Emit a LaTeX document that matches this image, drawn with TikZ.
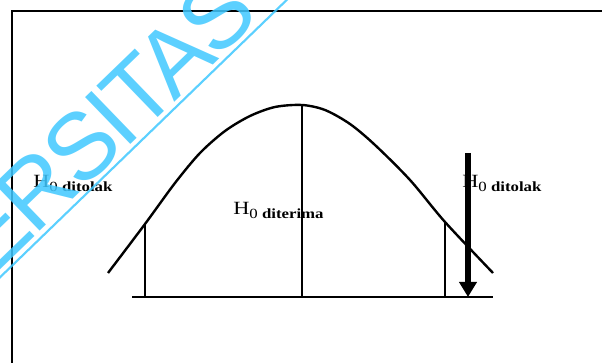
\documentclass[tikz,border=0pt]{standalone}
\usepackage{graphicx}
\usepackage{fontspec}
\setmainfont{Liberation Serif}
\newfontfamily\wmfont[LetterSpace=-4]{Liberation Sans}
\usetikzlibrary{arrows.meta}
\definecolor{wmcyan}{RGB}{64,200,255}
% H_0 with a stretched, lowered subscript
\newcommand{\hnull}[1]{\scalebox{1.2}[1]{H\raisebox{-2.5pt}{\fontsize{10.5}{11}\selectfont 0 \textbf{#1}}}}

\begin{document}
\begin{tikzpicture}[
    x=0.75pt, y=0.75pt,
    hlabel/.style={anchor=base west, inner sep=0pt, font=\fontsize{14}{16}\selectfont},
    curveline/.style={line width=1.8pt},
    cutline/.style={line width=1.6pt},
    wmark/.style={text=wmcyan, font=\wmfont\fontsize{71}{71}\selectfont, inner sep=0pt, text opacity=0.85},
    >={Triangle[width=12.75pt, length=11.25pt]}
]
    \clip (0,0) rectangle (602,363);

    % --- frame ---
    \draw[line width=1.6pt] (12,-5) -- (12,352) -- (610,352);

    % --- labels ---
    \node[hlabel] (rejl) at (33,175) {\hnull{ditolak}};
    \node[hlabel] (acc) at (233,148) {\hnull{diterima}};
    \node[hlabel] (rejr) at (462,175) {\hnull{ditolak}};

    % --- curve ---
    \coordinate (peak) at (302,258);
    \coordinate (lcut) at (145,139);
    \coordinate (rcut) at (445,141);
    \draw[curveline] plot[smooth] coordinates {(108,90) (lcut) (175,180) (200,210) (225,232)
        (250,247) (275,256) (peak) (325,253) (350,239) (375,218) (410,183) (rcut) (493,90)};

    % --- base and cuts ---
    \coordinate (bl) at (132,66);
    \coordinate (br) at (493,66);
    \coordinate (lfoot) at (145,66);
    \coordinate (mfoot) at (302,66);
    \coordinate (rfoot) at (445,66);
    \draw[line width=2.2pt] (bl) -- (br);
    \draw[cutline] (lfoot) -- (lcut);
    \draw[cutline] (mfoot) -- (peak);
    \draw[cutline] (rfoot) -- (rcut);

    % --- arrow ---
    \coordinate (atop) at (468,210);
    \coordinate (abot) at (468,66);
    \draw[->, line width=4pt] (atop) -- (abot);

    % --- watermark ---
    \coordinate (wl1) at (-10,76);
    \coordinate (wl2) at (297,373);
    \node[wmark, rotate=44, anchor=base west] (wmtext) at (-8,85) {ERSITAS};
    \draw[wmcyan, opacity=0.85, line width=1.6pt] (wl1) -- (wl2);
\end{tikzpicture}
\end{document}
